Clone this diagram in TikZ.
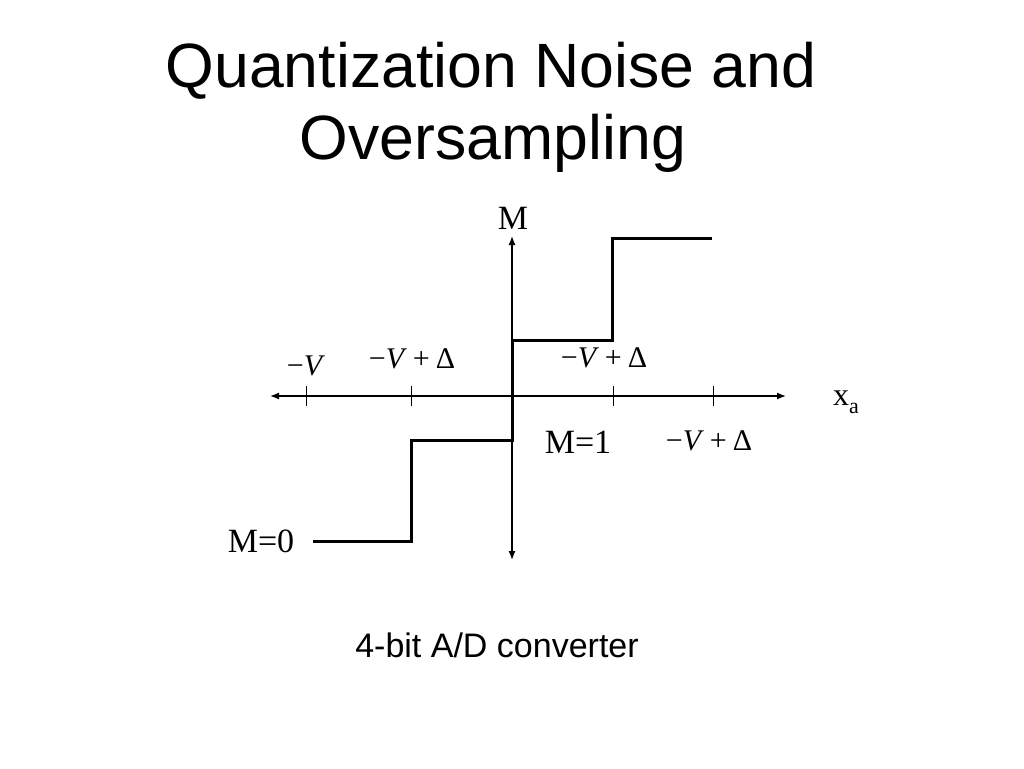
\documentclass[tikz,border=0pt]{standalone}
\usepackage{fontspec}
\setmainfont{Liberation Serif}
\newfontfamily\sansf{Liberation Sans}
\usetikzlibrary{arrows.meta}
\begin{document}
\begin{tikzpicture}[x=1pt,y=-1pt,
  ttl/.style={font=\sansf\fontsize{62.6}{72}\selectfont, anchor=base, inner sep=0},
  captxt/.style={font=\sansf\fontsize{34}{40}\selectfont, anchor=base, inner sep=0},
  lbl/.style={font=\fontsize{34}{40}\selectfont, anchor=base, inner sep=0},
  mlbl/.style={font=\fontsize{30}{36}\selectfont, anchor=base, inner sep=0},
  axisline/.style={line width=1.3pt, {Latex[length=9pt,width=7pt]}-{Latex[length=9pt,width=7pt]}},
  stair/.style={line width=3pt, line join=miter},
  tickline/.style={line width=1pt}]
\useasboundingbox[fill=white] (0,0) rectangle (1024,768);
% title
\node[ttl] (t1) at (491,87) {Quantization Noise and};
\node[ttl] (t2) at (493,159) {Oversampling};
% axes
\coordinate (xl) at (270,396);
\coordinate (xr) at (786,396);
\coordinate (yt) at (512,236);
\coordinate (yb) at (512,560);
\draw[axisline] (xl) -- (xr);
\draw[axisline] (yt) -- (yb);
% ticks
\foreach \n/\xx in {k1/306,k2/411,k3/613,k4/713}{
  \coordinate (\n) at (\xx,396);
  \draw[tickline] ([yshift=10pt]\n) -- ([yshift=-10pt]\n);
}
% staircase
\coordinate (s0) at (313,541);
\coordinate (s1) at (411,541);
\coordinate (s2) at (411,440);
\coordinate (s3) at (512,440);
\coordinate (s4) at (512,340);
\coordinate (s5) at (612,340);
\coordinate (s6) at (612,238);
\coordinate (s7) at (712,238);
\draw[stair] (s0) -- (s1) -- (s2) -- (s3) -- (s4) -- (s5) -- (s6) -- (s7);
% labels
\node[lbl] (mtop) at (513,229) {M};
\node[mlbl] (lv0) at (306,375) {−\textit{V}};
\node[mlbl] (lv1) at (412,368) {−\textit{V}\hspace{0.2em}+\hspace{0.2em}Δ};
\node[mlbl] (lv2) at (604,367) {−\textit{V}\hspace{0.2em}+\hspace{0.2em}Δ};
\node[mlbl] (lv3) at (709,450) {−\textit{V}\hspace{0.2em}+\hspace{0.2em}Δ};
\node[lbl] (m1) at (578,453) {M=1};
\node[lbl] (m0) at (261,552) {M=0};
\node[anchor=base west, inner sep=0, font=\fontsize{32}{36}\selectfont] (xa) at (833,405) {x\raisebox{-8pt}{\fontsize{22}{24}\selectfont a}};
% caption
\node[captxt] (cap) at (497,657) {4-bit A/D converter};
\end{tikzpicture}
\end{document}
